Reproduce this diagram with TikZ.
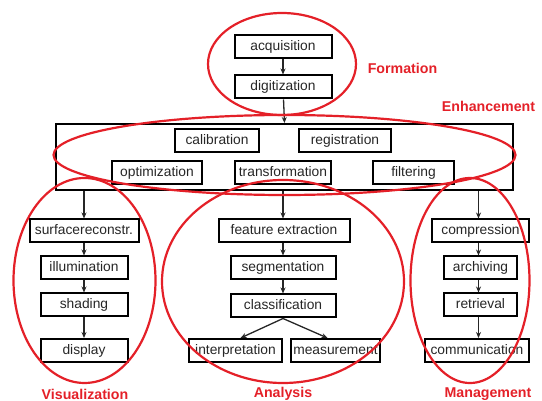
\documentclass[tikz,border=0pt]{standalone}
\usepackage{fontspec}
\setmainfont{Liberation Sans}
\usetikzlibrary{arrows.meta,shapes.geometric}
\definecolor{grpred}{RGB}{228,32,40}
\begin{document}
\begin{tikzpicture}[x=1pt,y=-1pt,
  box/.style={draw=black,line width=2pt,inner sep=0pt,minimum height=23pt,
    text height=10pt,text depth=2.5pt,
    font=\fontsize{13.8}{15}\selectfont,text=black!85},
  arr/.style={draw=black!85,line width=1.3pt,-{Stealth[length=6pt,width=5pt]}},
  grp/.style={draw=grpred,line width=2.2pt,ellipse,inner sep=0pt},
  lab/.style={text=grpred,font=\fontsize{14.2}{16}\selectfont\bfseries}]
\useasboundingbox (0,0) rectangle (542,401);
% enhancement frame
\node[draw=black,line width=2pt,minimum width=457pt,minimum height=66pt,inner sep=0pt] (enh) at (284.5,157) {};
% formation
\node[box,minimum width=97pt] (acq) at (283,47) {acquisition};
\node[box,minimum width=97pt] (dig) at (283,87) {digitization};
% enhancement boxes
\node[box,minimum width=84pt] (cal) at (217,140.5) {calibration};
\node[box,minimum width=92pt] (reg) at (345,140.5) {registration};
\node[box,minimum width=90pt] (opt) at (157,172.5) {optimization};
\node[box,minimum width=96pt] (tra) at (283,172.5) {transformation};
\node[box,minimum width=81pt] (fil) at (413.5,172.5) {filtering};
% visualization
\node[box,minimum width=109pt] (sur) at (84,231) {surfacereconstr.};
\node[box,minimum width=87pt] (ill) at (84,268) {illumination};
\node[box,minimum width=87pt] (sha) at (84,305) {shading};
\node[box,minimum width=87pt] (dis) at (84,350.5) {display};
% analysis
\node[box,minimum width=131pt] (fea) at (284,231) {feature extraction};
\node[box,minimum width=105pt] (seg) at (283,268) {segmentation};
\node[box,minimum width=105pt] (cla) at (283,306) {classification};
\node[box,minimum width=93pt] (int) at (235.5,350.5) {interpretation};
\node[box,minimum width=89pt] (mea) at (335.5,350.5) {measurement};
% management
\node[box,minimum width=97pt] (com) at (480.5,231) {compression};
\node[box,minimum width=73pt] (arc) at (480.5,268) {archiving};
\node[box,minimum width=73pt] (ret) at (480.5,305) {retrieval};
\node[box,minimum width=104pt] (cmm) at (477,350.5) {communication};
% arrows
\draw[arr] (acq) -- (dig);
\draw[arr] (dig) -- (enh.north);
\draw[arr] (enh.south -| sur.north) -- (sur.north);
\draw[arr] (enh.south -| cla.north) -- (fea.north -| cla.north);
\draw[arr] ([xshift=-2pt]enh.south -| com.north) -- ([xshift=-2pt]com.north);
\draw[arr] (sur) -- (ill);
\draw[arr] (ill) -- (sha);
\draw[arr] (sha) -- (dis);
\draw[arr] (fea.south -| seg.north) -- (seg);
\draw[arr] (seg) -- (cla);
\draw[arr] (cla.south) -- ([xshift=5pt]int.north);
\draw[arr] (cla.south) -- ([xshift=-8pt]mea.north);
\draw[arr] ([xshift=-2pt]com.south) -- ([xshift=-2pt]arc.north);
\draw[arr] ([xshift=-2pt]arc.south) -- ([xshift=-2pt]ret.north);
\draw[arr] ([xshift=-2pt]ret.south) -- ([xshift=-2pt]ret.south |- cmm.north);
% group ellipses
\node[grp,minimum width=148pt,minimum height=102pt] (gform) at (282,64) {};
\node[grp,minimum width=462pt,minimum height=80pt] (genh) at (284.5,155) {};
\node[grp,minimum width=142pt,minimum height=205pt] (gvis) at (84.5,280.5) {};
\node[grp,minimum width=242pt,minimum height=203pt] (gana) at (283,281.5) {};
\node[grp,minimum width=119pt,minimum height=205pt] (gman) at (470,280.5) {};
% labels
\node[lab] (lform) at (402.5,68) {Formation};
\node[lab] (lenh) at (488.5,106) {Enhancement};
\node[lab] (lvis) at (85,394) {Visualization};
\node[lab] (lana) at (283,394) {Analysis};
\node[lab] (lman) at (488,394) {Management};
\end{tikzpicture}
\end{document}
